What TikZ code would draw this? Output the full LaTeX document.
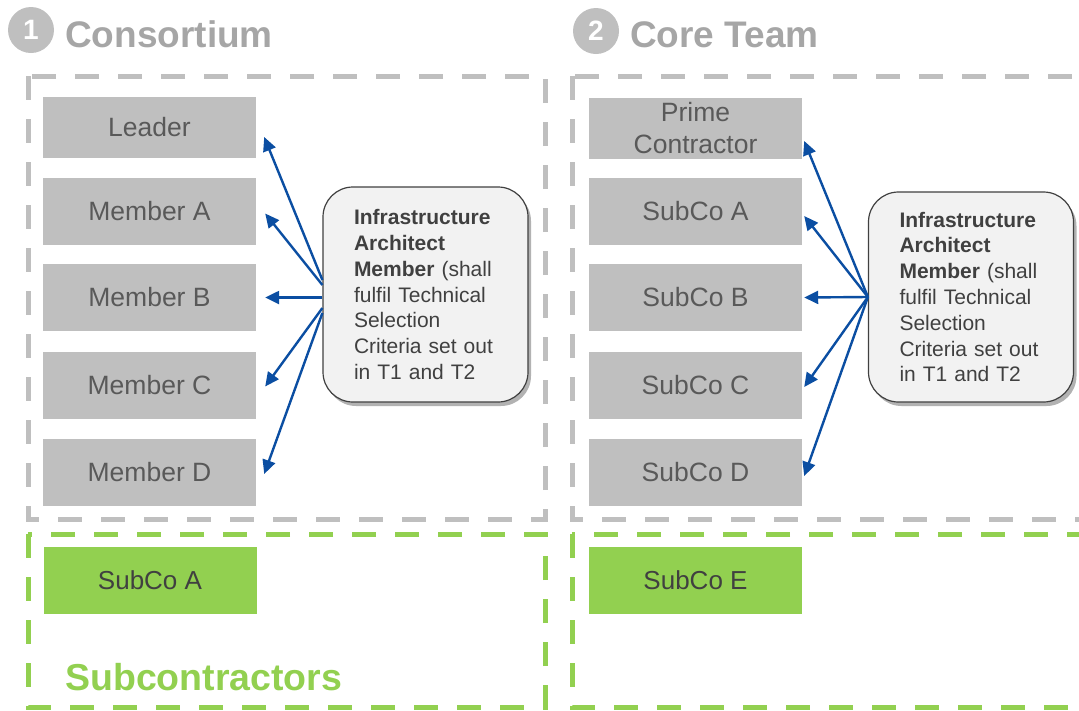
\documentclass[tikz,border=0pt]{standalone}
\usepackage{fontspec}
\setmainfont{Liberation Sans}
\usetikzlibrary{arrows.meta,shadows}
\definecolor{boxgray}{HTML}{BFBFBF}
\definecolor{titlegray}{HTML}{A6A6A6}
\definecolor{txtgray}{HTML}{595959}
\definecolor{txtdark}{HTML}{404040}
\definecolor{greenc}{HTML}{92D050}
\definecolor{arrblue}{HTML}{0B4EA2}
\definecolor{callfill}{HTML}{F2F2F2}
\definecolor{calldraw}{HTML}{404040}
\begin{document}
\begin{tikzpicture}[x=1pt,y=-1pt,
  graybox/.style={fill=boxgray, draw=none, minimum width=213pt, minimum height=67pt, inner sep=0pt, text=txtgray, font=\fontsize{26.5}{32}\selectfont, align=center},
  greenbox/.style={fill=greenc, draw=none, minimum width=213pt, minimum height=67pt, inner sep=0pt, text=txtdark, font=\fontsize{26}{32}\selectfont, align=center},
  graydash/.style={draw=boxgray, line width=5pt, dash pattern=on 24pt off 19pt},
  greendash/.style={draw=greenc, line width=5pt, dash pattern=on 24pt off 19pt},
  numcircle/.style={circle, fill=boxgray, minimum size=46pt, inner sep=0pt, text=white, font=\bfseries\fontsize{28}{28}\selectfont},
  titletext/.style={anchor=base west, inner sep=0pt, text=titlegray, font=\bfseries\fontsize{37}{37}\selectfont},
  callout/.style={draw=calldraw, line width=1.2pt, fill=callfill, rounded corners=30pt, minimum width=205pt, inner xsep=31pt, text width=143pt, align=left, text=txtdark, font=\fontsize{21}{25.8}\selectfont, drop shadow={shadow xshift=3pt, shadow yshift=-4pt, fill=black, opacity=0.3}},
  arr/.style={draw=arrblue, line width=2.4pt, -{Triangle[length=14pt,width=13pt]}}
]
\useasboundingbox (0,0) rectangle (1079,710);

% titles
\node[numcircle] (n1) at (31,30) {1};
\node[titletext] (t1) at (65,47) {Consortium};
\node[numcircle] (n2) at (596,31) {2};
\node[titletext] (t2) at (630,47) {Core Team};

% dashed frames
\draw[graydash] (28,76) rectangle (545,519);
\draw[graydash] (572,76) rectangle (1110,519);
\draw[greendash] (28,534) rectangle (545,707);
\draw[greendash] (572,534) rectangle (1110,707);

% left column
\node[graybox, minimum height=61pt] (leader) at (149.5,127.5) {Leader};
\node[graybox] (ma) at (149.5,211) {Member A};
\node[graybox] (mb) at (149.5,297.5) {Member B};
\node[graybox] (mc) at (149.5,385) {Member C};
\node[graybox] (md) at (149.5,472) {Member D};
\node[greenbox] (sa) at (150,580.5) {SubCo A};

% right column
\node[graybox, minimum height=61pt] (prime) at (695.5,128.5) {Prime\\Contractor};
\node[graybox] (ra) at (695.5,211) {SubCo A};
\node[graybox] (rb) at (695.5,297.5) {SubCo B};
\node[graybox] (rc) at (695.5,385) {SubCo C};
\node[graybox] (rd) at (695.5,472) {SubCo D};
\node[greenbox] (se) at (695.5,580.5) {SubCo E};

% subcontractors label
\node[anchor=base west, inner sep=0pt, text=greenc, font=\bfseries\fontsize{37.5}{37.5}\selectfont] (sub) at (65,690) {Subcontractors};

% callouts
\node[callout, minimum height=215pt] (c1) at (425.5,294.5) {\textbf{Infrastructure}\\\textbf{Architect}\\\textbf{Member} (shall\\fulfil Technical\\Selection\\Criteria set out\\in T1 and T2};
\node[callout, minimum height=210pt] (c2) at (971,297) {\textbf{Infrastructure}\\\textbf{Architect}\\\textbf{Member} (shall\\fulfil Technical\\Selection\\Criteria set out\\in T1 and T2};

% arrows left
\draw[arr] ([yshift=14.5pt]c1.west) -- ([xshift=8pt,yshift=-9.5pt]leader.east);
\draw[arr] ([yshift=9.5pt]c1.west) -- ([xshift=9pt,yshift=-2.5pt]ma.east);
\draw[arr] ([yshift=-3pt]c1.west) -- ([xshift=9pt]mb.east);
\draw[arr] ([yshift=-13.5pt]c1.west) -- ([xshift=9pt,yshift=-1.5pt]mc.east);
\draw[arr] ([yshift=-18.5pt]c1.west) -- ([xshift=8pt,yshift=-2pt]md.east);

% arrows right
\draw[arr] (c2.west) -- ([xshift=2pt,yshift=-12.5pt]prime.east);
\draw[arr] (c2.west) -- ([xshift=2pt,yshift=-5pt]ra.east);
\draw[arr] (c2.west) -- ([xshift=2pt]rb.east);
\draw[arr] (c2.west) -- ([xshift=2pt,yshift=-2pt]rc.east);
\draw[arr] (c2.west) -- ([xshift=2pt,yshift=-4pt]rd.east);
\end{tikzpicture}
\end{document}
